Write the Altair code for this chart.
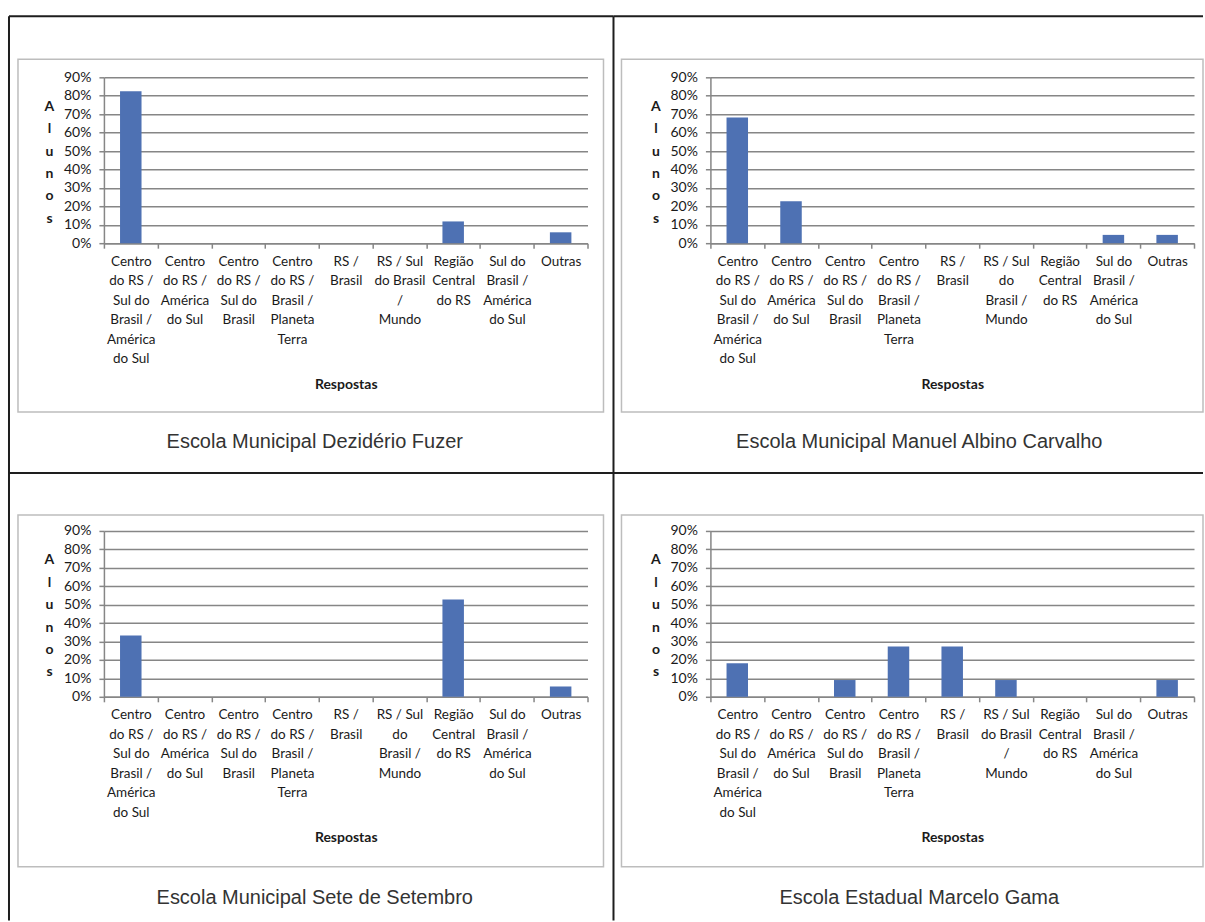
import altair as alt
import pandas as pd

# ---------------- data ----------------
categories = [
    "Centro do RS / Sul do Brasil / América do Sul",
    "Centro do RS / América do Sul",
    "Centro do RS / Sul do Brasil",
    "Centro do RS / Brasil / Planeta Terra",
    "RS / Brasil",
    "RS / Sul do Brasil / Mundo",
    "Região Central do RS",
    "Sul do Brasil / América do Sul",
    "Outras",
]
# wrapped tick labels ("|" = line break), as in the original
labels_a = [
    "Centro|do RS /|Sul do|Brasil /|América|do Sul",
    "Centro|do RS /|América|do Sul",
    "Centro|do RS /|Sul do|Brasil",
    "Centro|do RS /|Brasil /|Planeta|Terra",
    "RS /|Brasil",
    "RS / Sul|do Brasil|/|Mundo",
    "Região|Central|do RS",
    "Sul do|Brasil /|América|do Sul",
    "Outras",
]
labels_b = [
    "Centro|do RS /|Sul do|Brasil /|América|do Sul",
    "Centro|do RS /|América|do Sul",
    "Centro|do RS /|Sul do|Brasil",
    "Centro|do RS /|Brasil /|Planeta|Terra",
    "RS /|Brasil",
    "RS / Sul|do|Brasil /|Mundo",
    "Região|Central|do RS",
    "Sul do|Brasil /|América|do Sul",
    "Outras",
]

schools = [
    "Escola Municipal Dezidério Fuzer",
    "Escola Municipal Manuel Albino Carvalho",
    "Escola Municipal Sete de Setembro",
    "Escola Estadual Marcelo Gama",
]
deziderio_fuzer = [0.824, 0, 0, 0, 0, 0, 0.118, 0, 0.059]
manuel_albino = [0.682, 0.227, 0, 0, 0, 0, 0, 0.045, 0.045]
sete_setembro = [0.333, 0, 0, 0, 0, 0, 0.528, 0, 0.056]
marcelo_gama = [0.182, 0, 0.091, 0.273, 0.273, 0.091, 0, 0, 0.091]

y_ticks = [0.0, 0.1, 0.2, 0.3, 0.4, 0.5, 0.6, 0.7, 0.8, 0.9]
y_title = ["A", "l", "u", "n", "o", "s"]
x_title = "Respostas"

# ---------------- style ----------------
W, H = 484, 166
BAR = "#4E71B3"
GRID = "#868686"
BOX = "#bdbdbd"
BLACK = "#1e1e1e"
TXT = "#1a1a1a"
FONT = "Lato"


def panel(values, labels, title, col, row):
    df = pd.DataFrame({"categoria": categories, "label": labels, "valor": values})
    deco = pd.DataFrame({"t": [title]})

    if col == 0:
        lx, rx, bx1, bx2, tx = -95, 510, -86, 500, 211
    else:
        lx, rx, bx1, bx2, tx = -97, 493, -89, 493, 209
    if row == 0:
        ty, by, by1, by2, tty = -61, 396, -18, 335, 365
    else:
        ty, by, by1, by2, tty = -58, 390, -16, 336, 367

    bars = alt.Chart(df).mark_bar(width=alt.RelativeBandSize(0.4), color=BAR).encode(
        x=alt.X(
            "label:N",
            sort=labels,
            scale=alt.Scale(paddingInner=0, paddingOuter=0),
            axis=alt.Axis(
                title=x_title,
                labelExpr="split(datum.label, '|')",
                labelAngle=0,
                labelAlign="center",
                labelBaseline="top",
                labelFont=FONT,
                labelFontSize=13.5,
                labelColor=TXT,
                labelLineHeight=19.5,
                labelPadding=6,
                labelOverlap=False,
                labelLimit=200,
                tickBand="extent",
                tickSize=5,
                tickWidth=1.5,
                tickColor=GRID,
                domainColor=GRID,
                domainWidth=1.5,
                grid=False,
                titleFont=FONT,
                titleFontSize=14,
                titleFontWeight="bold",
                titleColor=TXT,
                titleBaseline="middle",
                titleY=141,
            ),
        ),
        y=alt.Y(
            "valor:Q",
            scale=alt.Scale(domain=[0, 0.9], nice=False),
            axis=alt.Axis(
                values=y_ticks,
                format=".0%",
                title=y_title,
                titleAngle=0,
                titleAlign="center",
                titleBaseline="middle",
                titleX=-55,
                titleY=29,
                titleLineHeight=22.4,
                titleFont=FONT,
                titleFontSize=14,
                titleFontWeight="bold",
                titleColor=TXT,
                labelFont=FONT,
                labelFontSize=14,
                labelColor=TXT,
                labelPadding=8,
                tickSize=5,
                tickWidth=1.5,
                tickColor=GRID,
                domainColor=GRID,
                domainWidth=1.5,
                grid=True,
                gridColor=GRID,
                gridWidth=1.5,
            ),
        ),
        tooltip=["categoria:N", alt.Tooltip("valor:Q", format=".1%")],
    )

    box = alt.Chart(deco).mark_rect(fillOpacity=0, stroke=BOX, strokeWidth=1.5).encode(
        x=alt.value(bx1), x2=alt.value(bx2), y=alt.value(by1), y2=alt.value(by2)
    )
    top_line = alt.Chart(deco).mark_rule(color=BLACK, strokeWidth=2).encode(
        x=alt.value(lx), x2=alt.value(rx), y=alt.value(ty)
    )
    left_line = alt.Chart(deco).mark_rule(color=BLACK, strokeWidth=2).encode(
        x=alt.value(lx), y=alt.value(ty), y2=alt.value(by)
    )
    caption = alt.Chart(deco).mark_text(
        font="Liberation Sans", fontSize=20, color="#333333", align="center", baseline="middle"
    ).encode(x=alt.value(tx), y=alt.value(tty), text="t:N")

    return alt.layer(box, top_line, left_line, bars, caption).properties(width=W, height=H)


p1 = panel(deziderio_fuzer, labels_a, schools[0], 0, 0)
p2 = panel(manuel_albino, labels_b, schools[1], 1, 0)
p3 = panel(sete_setembro, labels_b, schools[2], 0, 1)
p4 = panel(marcelo_gama, labels_a, schools[3], 1, 1)

chart = (
    alt.concat(p1, p2, p3, p4, columns=2, spacing={"row": 288, "column": 123}, bounds="flush")
    .properties(padding={"left": 7, "top": 14, "right": 0, "bottom": 0}, background="white")
    .configure_view(stroke="transparent")
)

chart.save("out.html", embed_options={"renderer": "svg", "actions": False})
